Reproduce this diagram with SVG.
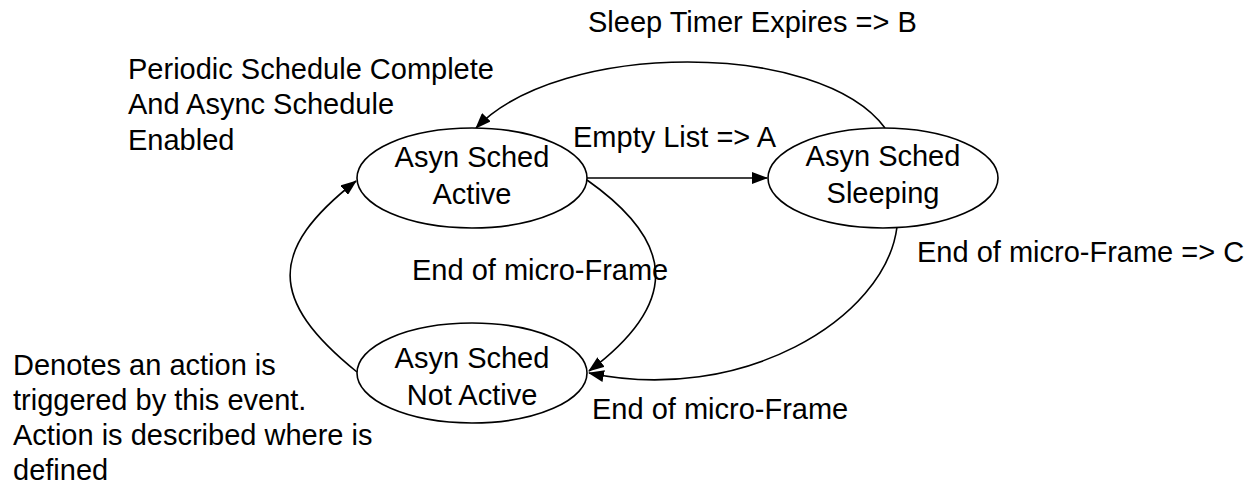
<svg xmlns="http://www.w3.org/2000/svg" width="1255" height="488" viewBox="0 0 1255 488">
<style>
text{font-family:"Liberation Sans",Arial,sans-serif;font-size:29px;fill:#000}
.c{text-anchor:middle}
.n{fill:#fff;stroke:#000;stroke-width:1.6}
.e{fill:none;stroke:#000;stroke-width:1.6;marker-end:url(#ah)}
</style>
<defs>
<marker id="ah" markerWidth="16" markerHeight="12" refX="15" refY="6" orient="auto" markerUnits="userSpaceOnUse">
<path d="M0,0 L16,6 L0,12 Z" fill="#000"/>
</marker>
</defs>
<rect width="1255" height="488" fill="#fff"/>
<g id="connectors">
<path class="e" d="M587,178 L767,178"/>
<path class="e" d="M885,128 C820,40 560,40 476,128"/>
<path class="e" d="M587,180 C672,240 684,300 589,371"/>
<path class="e" d="M897,227 C885,320 740,405 589,373"/>
<path class="e" d="M357,372 C268,300 268,250 356,181"/>
</g>
<g id="active">
<ellipse class="n" cx="472" cy="178" rx="115" ry="50"/>
<text class="c" x="472" y="167">Asyn Sched</text>
<text class="c" x="472" y="204">Active</text>
</g>
<g id="sleeping">
<ellipse class="n" cx="883" cy="178" rx="115" ry="50"/>
<text class="c" x="883" y="166">Asyn Sched</text>
<text class="c" x="883" y="203">Sleeping</text>
</g>
<g id="notactive">
<ellipse class="n" cx="472" cy="373" rx="115" ry="50"/>
<text class="c" x="472" y="368">Asyn Sched</text>
<text class="c" x="472" y="405">Not Active</text>
</g>
<g id="labels">
<text x="588" y="32">Sleep Timer Expires =&gt; B</text>
<text x="573" y="147">Empty List =&gt; A</text>
<text x="128" y="79">Periodic Schedule Complete</text>
<text x="128" y="114">And Async Schedule</text>
<text x="128" y="150">Enabled</text>
<text x="412" y="280">End of micro-Frame</text>
<text x="917" y="262">End of micro-Frame =&gt; C</text>
<text x="592" y="419">End of micro-Frame</text>
<text x="13" y="375">Denotes an action is</text>
<text x="13" y="410">triggered by this event.</text>
<text x="13" y="445">Action is described where is</text>
<text x="13" y="480">defined</text>
</g>
</svg>
